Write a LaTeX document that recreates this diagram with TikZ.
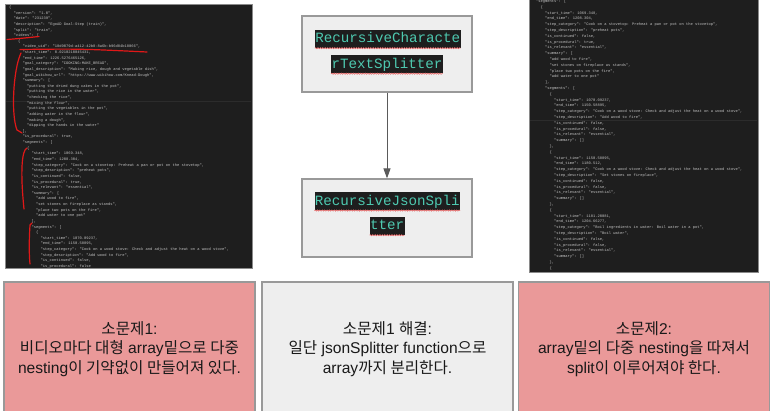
\documentclass[tikz,border=0pt]{standalone}
\usepackage{fontspec}
\setmainfont{Liberation Sans}
\newfontfamily\krfont{Noto Sans CJK KR}
\newfontfamily\codefont{Liberation Mono}
\usetikzlibrary{decorations.pathmorphing,arrows.meta}
\definecolor{shotbg}{HTML}{1E1E1E}
\definecolor{shotline}{HTML}{2C2C2C}
\definecolor{shotborder}{HTML}{8A8A8A}
\definecolor{codegray}{HTML}{C4C4C4}
\definecolor{boxgray}{HTML}{EEEEEE}
\definecolor{boxborder}{HTML}{999999}
\definecolor{pinkbox}{HTML}{EA9999}
\definecolor{tealtext}{HTML}{4EC9B0}
\definecolor{annot}{HTML}{E01818}
\definecolor{wavyred}{HTML}{E06060}
\definecolor{arrowgray}{HTML}{5A5A5A}
\newlength\cw
\setlength\cw{2.25pt}
\newcommand\ci[1]{\hspace*{#1\cw}}
\newcommand\K[1]{{\krfont #1}}
\tikzset{
  shot/.style={draw=shotborder, line width=0.8pt, fill=shotbg},
  codetext/.style={anchor=north west, inner sep=0pt, text=codegray, align=left,
    font=\codefont\fontsize{3.75}{5.63}\selectfont},
  codetextr/.style={codetext, font=\codefont\fontsize{3.75}{5.8}\selectfont},
  redmark/.style={draw=annot, line width=1.2pt, line cap=round},
  midbox/.style={draw=boxborder, line width=1.2pt, fill=boxgray, minimum width=170pt},
  hl/.style={fill=shotbg, text=tealtext, inner xsep=0.3pt, inner ysep=0pt,
    minimum height=18pt, text height=10.5pt, text depth=3pt,
    font=\codefont\fontsize{14.2}{16}\selectfont},
  wavy/.style={draw=wavyred, line width=0.6pt,
    decorate, decoration={snake, amplitude=0.6pt, segment length=2.4pt}},
  conn/.style={draw=arrowgray, line width=1pt, -{Triangle[length=10pt,width=7pt]}},
  botbox/.style={draw=boxborder, line width=1.2pt, minimum width=251pt, minimum height=134pt,
    align=center, text=black!90, font=\fontsize{15.6}{19.5}\selectfont},
}
\begin{document}
\begin{tikzpicture}[x=1pt,y=-1pt]
\useasboundingbox (0,0) rectangle (774,411);
\clip (0,0) rectangle (774,411);

% ---------- left screenshot ----------
\path[shot] (5,4) rectangle (252,268);
\draw[shotline, line width=0.4pt] (6,101.5) -- (251,101.5);
\node[codetext] (lcode) at (9,5.3) {\rule{0pt}{3pt}\ci{0}\{\\
\ci{2}"version": "1.0",\\
\ci{2}"date": "231239",\\
\ci{2}"description": "EgoAD Goal-Step (train)",\\
\ci{2}"split": "train",\\
\ci{2}"videos": [\\
\ci{4}\{\\
\ci{6}"video\_uid": "18d9079d-a412-42b8-8a6b-b96d84b18066",\\
\ci{6}"start\_time": 0.0210210045431,\\
\ci{6}"end\_time": 1226.5276465126,\\
\ci{6}"goal\_category": "COOKING:MAKE\_BREAD",\\
\ci{6}"goal\_description": "Making rice, dough and vegetable dish",\\
\ci{6}"goal\_wikihow\_url": "https://www.wikihow.com/Knead-Dough",\\
\ci{6}"summary": [\\
\ci{8}"putting the dried dung cakes in the pot",\\
\ci{8}"putting the rice in the water",\\
\ci{8}"checking the rice",\\
\ci{8}"mixing the flour",\\
\ci{8}"putting the vegetables in the pot",\\
\ci{8}"adding water in the flour",\\
\ci{8}"making a dough",\\
\ci{8}"dipping the hands in the water"\\
\ci{6}],\\
\ci{6}"is\_procedural": true,\\
\ci{6}"segments": [\\
\ci{8}\{\\
\ci{10}"start\_time": 1069.348,\\
\ci{10}"end\_time": 1208.304,\\
\ci{10}"step\_category": "Cook on a stovetop: Preheat a pan or pot on the stovetop",\\
\ci{10}"step\_description": "preheat pots",\\
\ci{10}"is\_continued": false,\\
\ci{10}"is\_procedural": true,\\
\ci{10}"is\_relevant": "essential",\\
\ci{10}"summary": [\\
\ci{12}"add wood to fire",\\
\ci{12}"set stones on fireplace as stands",\\
\ci{12}"place two pots on the fire",\\
\ci{12}"add water to one pot"\\
\ci{10}],\\
\ci{10}"segments": [\\
\ci{12}\{\\
\ci{14}"start\_time": 1070.09237,\\
\ci{14}"end\_time": 1150.58895,\\
\ci{14}"step\_category": "Cook on a wood stove: Check and adjust the heat on a wood stove",\\
\ci{14}"step\_description": "Add wood to fire",\\
\ci{14}"is\_continued": false,\\
\ci{14}"is\_procedural": false};
% red annotations
\draw[redmark] (7,39.5) .. controls (20,38.5) .. (39,36.5);
\draw[redmark] (20,49.5) .. controls (80,48.8) .. (147,52);
\draw[redmark] (21,53) .. controls (13,70) and (11,115) .. (17,130) -- (22,133);
\draw[redmark] (27,148) .. controls (22,150) and (20,170) .. (24,209);
\draw[redmark] (32,223) -- (30,225) .. controls (29,240) and (29,255) .. (30,264);

% ---------- middle splitter boxes ----------
\node[midbox, minimum height=76pt] (b1) at (387,54) {};
\node[midbox, minimum height=78pt] (b2) at (387,218) {};
\node[hl] (t1a) at (387.8,39) {RecursiveCharacte};
\node[hl] (t1b) at (387,64.5) {rTextSplitter};
\node[hl] (t2a) at (387.3,201.3) {RecursiveJsonSpli};
\node[hl] (t2b) at (387.2,226) {tter};
\draw[wavy] (t1a.south west) -- (t1a.south east);
\draw[wavy] (t1b.south west) -- (t1b.south east);
\draw[wavy] (t2a.south west) -- (t2a.south east);
\draw[wavy] (t2b.south west) -- (t2b.south east);
\draw[conn] (b1) -- (b2);

% ---------- right screenshot ----------
\path[shot] (529,-3) rectangle (758,272);
\draw[shotline, line width=0.4pt] (530,120) -- (757,120);
\node[codetextr] (rcode) at (536,-0.6) {\rule{0pt}{3pt}\ci{0}"segments": [\\
\ci{2}\{\\
\ci{4}"start\_time": 1069.348,\\
\ci{4}"end\_time": 1208.304,\\
\ci{4}"step\_category": "Cook on a stovetop: Preheat a pan or pot on the stovetop",\\
\ci{4}"step\_description": "preheat pots",\\
\ci{4}"is\_continued": false,\\
\ci{4}"is\_procedural": true,\\
\ci{4}"is\_relevant": "essential",\\
\ci{4}"summary": [\\
\ci{6}"add wood to fire",\\
\ci{6}"set stones on fireplace as stands",\\
\ci{6}"place two pots on the fire",\\
\ci{6}"add water to one pot"\\
\ci{4}],\\
\ci{4}"segments": [\\
\ci{6}\{\\
\ci{8}"start\_time": 1070.09237,\\
\ci{8}"end\_time": 1150.58895,\\
\ci{8}"step\_category": "Cook on a wood stove: Check and adjust the heat on a wood stove",\\
\ci{8}"step\_description": "Add wood to fire",\\
\ci{8}"is\_continued": false,\\
\ci{8}"is\_procedural": false,\\
\ci{8}"is\_relevant": "essential",\\
\ci{8}"summary": []\\
\ci{6}\},\\
\ci{6}\{\\
\ci{8}"start\_time": 1150.58895,\\
\ci{8}"end\_time": 1180.512,\\
\ci{8}"step\_category": "Cook on a wood stove: Check and adjust the heat on a wood stove",\\
\ci{8}"step\_description": "Set stones on fireplace",\\
\ci{8}"is\_continued": false,\\
\ci{8}"is\_procedural": false,\\
\ci{8}"is\_relevant": "essential",\\
\ci{8}"summary": []\\
\ci{6}\},\\
\ci{6}\{\\
\ci{8}"start\_time": 1181.20081,\\
\ci{8}"end\_time": 1204.66277,\\
\ci{8}"step\_category": "Boil ingredients in water: Boil water in a pot",\\
\ci{8}"step\_description": "Boil water",\\
\ci{8}"is\_continued": false,\\
\ci{8}"is\_procedural": false,\\
\ci{8}"is\_relevant": "essential",\\
\ci{8}"summary": []\\
\ci{6}\},\\
\ci{6}\{};

% ---------- bottom boxes ----------
\node[botbox, fill=pinkbox] (p1) at (129.5,349) {\K{소문제}1:\\ \K{비디오마다 대형} array\K{밑으로 다중}\\ nesting\K{이 기약없이 만들어져 있다}.};
\node[botbox, fill=boxgray] (s1) at (387.5,349) {\K{소문제}1 \K{해결}:\\ \K{일단} jsonSplitter function\K{으로}\\ array\K{까지 분리한다}.};
\node[botbox, fill=pinkbox] (p2) at (644,349) {\K{소문제}2:\\ array\K{밑의 다중} nesting\K{을 따져서}\\ split\K{이 이루어져야 한다}.};
\end{tikzpicture}
\end{document}
